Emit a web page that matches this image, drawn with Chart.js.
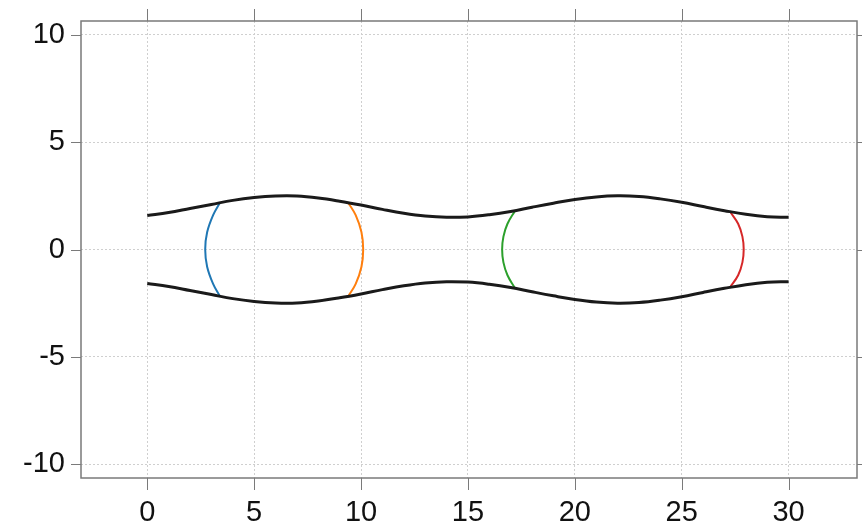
<!DOCTYPE html>
<html>
<head>
<meta charset="utf-8">
<script src="https://cdn.jsdelivr.net/npm/chart.js@4/dist/chart.umd.min.js"></script>
<style>
  html, body { margin: 0; padding: 0; background: #fff; }
  #wrap { width: 862px; height: 530px; }
</style>
</head>
<body>
<div id="wrap"><canvas id="c" width="862" height="530"></canvas></div>
<script>
// wall profile
const wallX = [0,1,2,3,4,5,6,7,8,9,10,11,12,13,14,15,16,17,18,19,20,21,22,23,24,25,26,27,28,29,30];
const upperWall = [1.58,1.72,1.91,2.10,2.29,2.42,2.49,2.49,2.40,2.25,2.07,1.87,1.69,1.56,1.50,1.52,1.62,1.77,1.97,2.16,2.33,2.45,2.50,2.47,2.36,2.20,2.00,1.81,1.64,1.53,1.50];
const lowerWall = upperWall.map(v => -v);

// interfaces (arcs)
const blueX   = [3.41, 3.08, 2.80, 2.71, 2.80, 3.08, 3.41];
const blueY   = [2.2, 1.6, 0.8, 0, -0.8, -1.6, -2.2];
const orangeX = [9.4, 9.75, 10.02, 10.1, 10.02, 9.75, 9.4];
const orangeY = [2.18, 1.6, 0.8, 0, -0.8, -1.6, -2.18];
const greenX  = [17.2, 16.85, 16.66, 16.6, 16.66, 16.85, 17.2];
const greenY  = [1.8, 1.2, 0.6, 0, -0.6, -1.2, -1.8];
const redX    = [27.25, 27.64, 27.84, 27.9, 27.84, 27.64, 27.25];
const redY    = [1.78, 1.2, 0.6, 0, -0.6, -1.2, -1.78];

const xTicks = [0, 5, 10, 15, 20, 25, 30];
const yTicks = [-10, -5, 0, 5, 10];

const pts = (xs, ys) => xs.map((x, i) => ({ x: x, y: ys[i] }));

function lineSet(data, color, width) {
  return {
    data: data, borderColor: color, borderWidth: width,
    showLine: true, pointRadius: 0, tension: 0.4, fill: false
  };
}

// frame and ticks on all four sides
const framePlugin = {
  id: 'frame',
  afterDraw(chart) {
    const ctx = chart.ctx;
    const a = chart.chartArea;
    const xs = chart.scales.x, ys = chart.scales.y;
    ctx.save();
    ctx.strokeStyle = '#7a7a7a';
    ctx.lineWidth = 1.5;
    ctx.strokeRect(a.left, a.top, a.right - a.left, a.bottom - a.top);
    ctx.lineWidth = 1;
    ctx.beginPath();
    xTicks.forEach(t => {
      const p = Math.round(xs.getPixelForValue(t)) + 0.5;
      ctx.moveTo(p, a.bottom); ctx.lineTo(p, a.bottom + 12);
      ctx.moveTo(p, a.top); ctx.lineTo(p, a.top - 12);
    });
    yTicks.forEach(t => {
      const p = Math.round(ys.getPixelForValue(t)) + 0.5;
      ctx.moveTo(a.left, p); ctx.lineTo(a.left - 10, p);
      ctx.moveTo(a.right, p); ctx.lineTo(a.right + 10, p);
    });
    ctx.stroke();
    ctx.restore();
  }
};

const tickFont = { family: "'Liberation Sans Narrow', 'Liberation Sans', Arial, sans-serif", size: 29 };

function noPad(s) {
  s.paddingTop = 0; s.paddingBottom = 0; s.paddingLeft = 0; s.paddingRight = 0;
}

new Chart(document.getElementById('c'), {
  type: 'scatter',
  data: {
    datasets: [
      lineSet(pts(wallX, upperWall), '#1a1a1a', 3),
      lineSet(pts(wallX, lowerWall), '#1a1a1a', 3),
      lineSet(pts(blueX, blueY), '#1f77b4', 2),
      lineSet(pts(orangeX, orangeY), '#ff7f0e', 2),
      lineSet(pts(greenX, greenY), '#2ca02c', 2),
      lineSet(pts(redX, redY), '#d62728', 2)
    ]
  },
  options: {
    responsive: false,
    animation: false,
    layout: { padding: { top: 21, right: 5, left: 0, bottom: 0 } },
    plugins: { legend: { display: false }, tooltip: { enabled: false } },
    scales: {
      x: {
        type: 'linear', min: -3.1, max: 33.2,
        afterBuildTicks: s => { s.ticks = xTicks.map(v => ({ value: v })); },
        afterFit: s => { s.height = 52; noPad(s); },
        grid: { color: '#cfcfcf', lineWidth: 1, drawTicks: false },
        border: { display: false, dash: [2, 2] },
        ticks: { color: '#111', font: tickFont, padding: 18, maxRotation: 0 }
      },
      y: {
        type: 'linear', min: -10.65, max: 10.65,
        afterBuildTicks: s => { s.ticks = yTicks.map(v => ({ value: v })); },
        afterFit: s => { s.width = 81; noPad(s); },
        grid: { color: '#cfcfcf', lineWidth: 1, drawTicks: false },
        border: { display: false, dash: [2, 2] },
        ticks: { color: '#111', font: tickFont, padding: 16 }
      }
    }
  },
  plugins: [framePlugin]
});
</script>
</body>
</html>
